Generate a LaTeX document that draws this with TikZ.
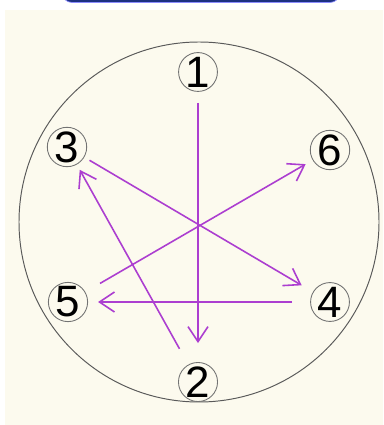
\documentclass[tikz,border=0pt]{standalone}
\usepackage{fontspec}
\setmainfont{Liberation Sans}
\usetikzlibrary{arrows.meta}
\definecolor{crema}{RGB}{252,250,238}
\definecolor{morado}{RGB}{172,62,208}
\definecolor{azulbarra}{RGB}{28,48,128}
\tikzset{
  num/.style={circle, draw=black!55, line width=0.5pt, minimum size=0.68cm, inner sep=0pt,
    font=\fontsize{25}{25}\selectfont},
  flecha/.style={morado, line width=0.9pt, -{Straight Barb[length=0.3cm, width=0.4cm]}},
  linea/.style={morado, line width=0.9pt}
}
\begin{document}
\begin{tikzpicture}[x=0.02cm, y=-0.02cm]
        % Fondo y marco
        \useasboundingbox (0,0) rectangle (383,425);
        \clip (0,0) rectangle (383,425);
        \fill[white] (0,0) rectangle (383,425);
        \fill[azulbarra, draw=blue!45, rounded corners=0.2cm] (62,-30) rectangle (340,2.5);
        \fill[crema] (5,10) rectangle (383,425);

        % Circulo exterior
        \draw[black!65, line width=0.55pt] (199,222) circle (180);

        % Posiciones numeradas
        \foreach \n/\x/\y in {1/198/72, 2/198/382, 3/67/147, 4/330/302, 5/68/302, 6/330/150}
            \node[num] (n\n) at (\x,\y) {\n};

        % Secuencia de apriete
        \foreach \a/\b/\s/\e in {1/2/0.22cm/0.38cm, 3/4/0.12cm/0.26cm, 4/5/0.36cm/0.2cm, 5/6/0.34cm/0.16cm}
            \draw[flecha, shorten <=\s, shorten >=\e] (n\a) -- (n\b);
        \draw[flecha, shorten <=0.36cm, shorten >=0.12cm] (n2) -- (n3);
\end{tikzpicture}
\end{document}
